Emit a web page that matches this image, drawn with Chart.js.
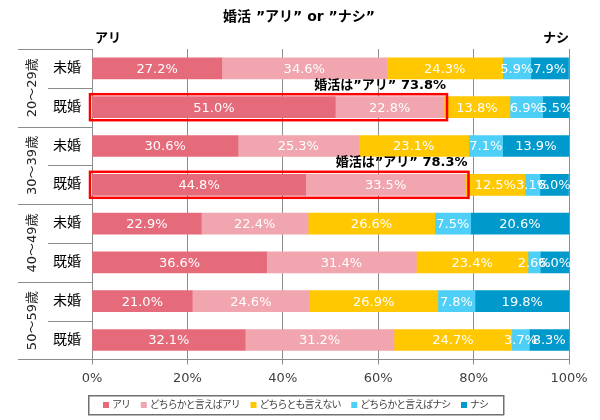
<!DOCTYPE html>
<html>
<head>
<meta charset="utf-8">
<script src="https://cdn.jsdelivr.net/npm/chart.js@4/dist/chart.umd.min.js"></script>
<style>
  body { margin: 0; background: #fff; }
  canvas { display: block; }
</style>
</head>
<body>
<canvas id="c" width="600" height="420"></canvas>
<script>
var categories = ['未婚', '既婚', '未婚', '既婚', '未婚', '既婚', '未婚', '既婚'];
var groups = ['20～29歳', '30～39歳', '40～49歳', '50～59歳'];
var seriesNames = ['アリ', 'どちらかと言えばアリ', 'どちらとも言えない', 'どちらかと言えばナシ', 'ナシ'];
var ari = [27.2, 51.0, 30.6, 44.8, 22.9, 36.6, 21.0, 32.1];
var ariMaybe = [34.6, 22.8, 25.3, 33.5, 22.4, 31.4, 24.6, 31.2];
var neither = [24.3, 13.8, 23.1, 12.5, 26.6, 23.4, 26.9, 24.7];
var nashiMaybe = [5.9, 6.9, 7.1, 3.1, 7.5, 2.6, 7.8, 3.7];
var nashi = [7.9, 5.5, 13.9, 6.0, 20.6, 6.0, 19.8, 8.3];
var highlightIndex = [1, 3];
var highlightTotal = [73.8, 78.3];
var chartTitle = '婚活 ”アリ” or ”ナシ”';

var colors = ['#E56B7B', '#F0A5AF', '#FFC800', '#4DCFF7', '#0099CC'];
var seriesData = [ari, ariMaybe, neither, nashiMaybe, nashi];
var gridColor = '#8C8C8C';
var jpFont = "'DejaVu Sans', 'Noto Sans CJK JP', sans-serif";

var datasets = seriesNames.map(function (name, i) {
    return {
        label: name,
        data: seriesData[i],
        backgroundColor: colors[i],
        borderWidth: 0,
        barThickness: 21
    };
});

var extras = {
    id: 'extras',
    afterDatasetsDraw: function (chart) {
        var ctx = chart.ctx;
        var xs = chart.scales.x;
        var ys = chart.scales.y;

        // value labels inside segments
        ctx.save();
        ctx.font = '13px ' + jpFont;
        ctx.fillStyle = '#fff';
        ctx.textAlign = 'center';
        ctx.textBaseline = 'middle';
        chart.data.datasets.forEach(function (ds, di) {
            chart.getDatasetMeta(di).data.forEach(function (el, i) {
                ctx.fillText(ds.data[i].toFixed(1) + '%', (el.x + el.base) / 2, el.y + 1);
            });
        });
        ctx.restore();

        // red boxes + notes
        ctx.save();
        highlightIndex.forEach(function (idx, k) {
            var y = ys.getPixelForValue(idx);
            var x0 = xs.getPixelForValue(0) - 2;
            var x1 = xs.getPixelForValue(highlightTotal[k]) + 3;
            ctx.strokeStyle = '#FF0000';
            ctx.lineWidth = 2.5;
            ctx.strokeRect(x0, y - 13, x1 - x0, 26);
            ctx.font = 'bold 13px ' + jpFont;
            ctx.fillStyle = '#000';
            ctx.textAlign = 'right';
            ctx.textBaseline = 'middle';
            ctx.fillText('婚活は”アリ” ' + highlightTotal[k].toFixed(1) + '%', x1 - 1, y - 22);
        });
        ctx.restore();
    },
    afterDraw: function (chart) {
        var ctx = chart.ctx;
        var area = chart.chartArea;
        var ys = chart.scales.y;
        var tableLeft = 18;

        ctx.save();
        // title
        ctx.fillStyle = '#000';
        ctx.font = 'bold 14px ' + jpFont;
        ctx.textAlign = 'center';
        ctx.textBaseline = 'middle';
        ctx.fillText(chartTitle, 299, 17);

        // category table lines
        ctx.fillStyle = gridColor;
        function hline(xa, xb, y) {
            ctx.fillRect(xa, Math.round(y), xb - xa, 1);
        }
        hline(tableLeft, area.left, area.top);
        hline(tableLeft, area.left, area.bottom);
        for (var i = 0; i < categories.length - 1; i++) {
            var mid = (ys.getPixelForValue(i) + ys.getPixelForValue(i + 1)) / 2;
            hline(i % 2 === 0 ? 48 : tableLeft, area.left, mid);
        }

        // group labels, rotated
        ctx.fillStyle = '#222';
        ctx.font = '13px ' + jpFont;
        groups.forEach(function (g, gi) {
            var yc = (ys.getPixelForValue(gi * 2) + ys.getPixelForValue(gi * 2 + 1)) / 2;
            ctx.save();
            ctx.translate(33, yc);
            ctx.rotate(-Math.PI / 2);
            ctx.fillText(g, 0, 0);
            ctx.restore();
        });

        // side captions
        ctx.font = 'bold 13px ' + jpFont;
        ctx.fillStyle = '#000';
        ctx.textAlign = 'left';
        ctx.fillText('アリ', area.left + 3, 39);
        ctx.textAlign = 'right';
        ctx.fillText('ナシ', area.right, 39);

        // legend, boxed
        var lgLeft = 88, lgRight = 503, lgTop = 395, lgBottom = 414;
        ctx.fillStyle = '#707070';
        ctx.fillRect(lgLeft, lgTop, lgRight - lgLeft + 1, 1.5);
        ctx.fillRect(lgLeft, lgBottom, lgRight - lgLeft + 1, 1.5);
        ctx.fillRect(lgLeft, lgTop, 1.5, lgBottom - lgTop + 1);
        ctx.fillRect(lgRight, lgTop, 1.5, lgBottom - lgTop + 1);

        ctx.font = '10px ' + jpFont;
        if ('letterSpacing' in ctx) ctx.letterSpacing = '-1px';
        var box = 6, gap = 3, padX = 15;
        var widths = chart.data.datasets.map(function (ds) {
            return box + gap + ctx.measureText(ds.label).width;
        });
        var textTotal = widths.reduce(function (a, b) { return a + b; }, 0);
        var spacing = (lgRight - lgLeft - padX * 2 - textTotal) / (widths.length - 1);
        var lx = lgLeft + padX;
        var ly = (lgTop + lgBottom) / 2 + 0.5;
        ctx.textAlign = 'left';
        ctx.textBaseline = 'middle';
        chart.data.datasets.forEach(function (ds, i) {
            ctx.fillStyle = ds.backgroundColor;
            ctx.fillRect(lx, ly - box / 2, box, box);
            ctx.fillStyle = '#404040';
            ctx.fillText(ds.label, lx + box + gap, ly + 0.5);
            lx += widths[i] + spacing;
        });
        ctx.restore();
    }
};

new Chart(document.getElementById('c'), {
    type: 'bar',
    data: { labels: categories, datasets: datasets },
    options: {
        indexAxis: 'y',
        responsive: false,
        animation: false,
        layout: { padding: { top: 49, left: 0, right: 31, bottom: 28 } },
        plugins: {
            legend: { display: false },
            tooltip: { enabled: false },
            title: { display: false }
        },
        scales: {
            x: {
                stacked: true,
                min: 0,
                max: 100,
                ticks: {
                    stepSize: 20,
                    color: '#404040',
                    font: { family: jpFont, size: 13 },
                    padding: 6,
                    callback: function (v) { return v + '%'; }
                },
                grid: { color: gridColor, tickLength: 5 },
                border: { color: gridColor }
            },
            y: {
                stacked: true,
                grid: { display: false, drawTicks: false },
                border: { display: false },
                ticks: {
                    color: '#000',
                    font: { family: jpFont, size: 14 },
                    padding: 11
                },
                afterFit: function (axis) { axis.width = 92; }
            }
        }
    },
    plugins: [extras]
});
</script>
</body>
</html>
